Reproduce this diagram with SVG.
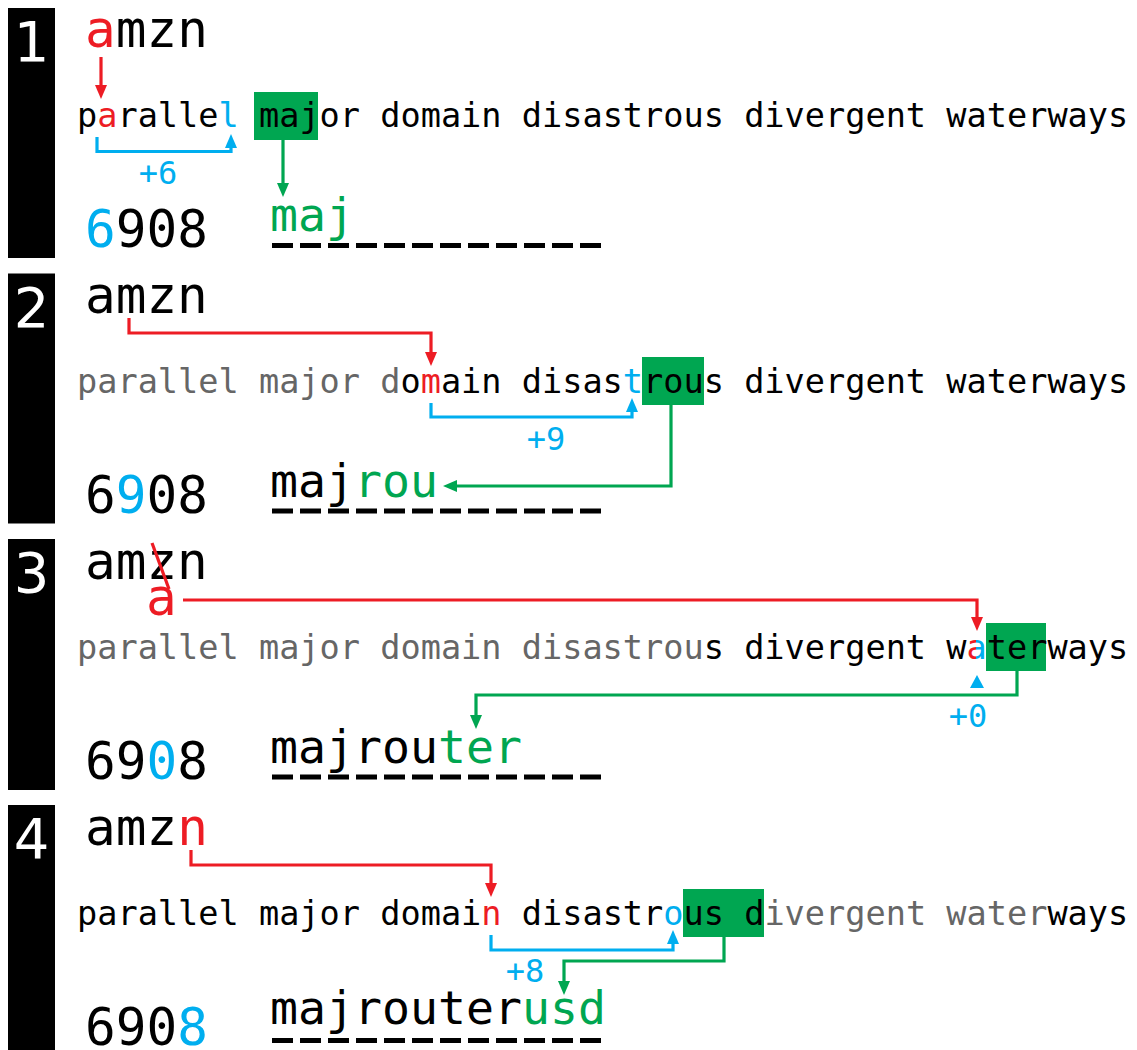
<svg xmlns="http://www.w3.org/2000/svg" width="1137" height="1050" viewBox="0 0 1137 1050">
<style>
.bar{fill:#000}
.num{font-family:"DejaVu Sans",sans-serif;font-size:56px;fill:#fff;text-anchor:middle}
.big{font-family:"DejaVu Sans Mono",monospace;font-size:51px;fill:#000}
.res{font-family:"DejaVu Sans Mono",monospace;font-size:46.5px;fill:#000}
.sen{font-family:"DejaVu Sans Mono",monospace;font-size:33.6px;fill:#000}
.lab{font-family:"DejaVu Sans Mono",monospace;font-size:32px;fill:#00aeef;text-anchor:middle}
.r{fill:#ed1c24}.b{fill:#00aeef}.g{fill:#00a651}.k{fill:#000}.gr{fill:#666}
.box{fill:#00a651}
.dash{stroke:#000;stroke-width:5;stroke-dasharray:21 7;fill:none}
.lr{stroke:#ed1c24;stroke-width:3.2;fill:none}
.lb{stroke:#00aeef;stroke-width:3.2;fill:none}
.lg{stroke:#00a651;stroke-width:3.2;fill:none}
</style>
<defs>
<marker id="mr" markerUnits="userSpaceOnUse" viewBox="0 0 14 12" refX="3" refY="6" markerWidth="14" markerHeight="13" orient="auto"><path d="M0,0L14,6L0,12z" fill="#ed1c24"/></marker>
<marker id="mb" markerUnits="userSpaceOnUse" viewBox="0 0 14 12" refX="3" refY="6" markerWidth="14" markerHeight="13" orient="auto"><path d="M0,0L14,6L0,12z" fill="#00aeef"/></marker>
<marker id="mg" markerUnits="userSpaceOnUse" viewBox="0 0 14 12" refX="3" refY="6" markerWidth="14" markerHeight="13" orient="auto"><path d="M0,0L14,6L0,12z" fill="#00a651"/></marker>
<linearGradient id="rb" gradientUnits="userSpaceOnUse" x1="964" y1="0" x2="985" y2="0"><stop offset="0.55" stop-color="#ed1c24"/><stop offset="0.55" stop-color="#00aeef"/></linearGradient>
</defs>

<g id="panel1">
<rect class="bar" x="8" y="8" width="47" height="250"/>
<text class="num" x="31.5" y="61">1</text>
<text class="big" x="85" y="47"><tspan class="r">a</tspan>mzn</text>
<rect class="box" x="254" y="92" width="64" height="48"/>
<text class="sen" x="77" y="127">p<tspan class="r">a</tspan>ralle<tspan class="b">l</tspan> major domain disastrous divergent waterways</text>
<text class="lab" x="158" y="184">+6</text>
<text class="big" x="85" y="247"><tspan class="b">6</tspan>908</text>
<text class="res" x="270" y="231"><tspan class="g">maj</tspan></text>
<line class="dash" x1="272" y1="245.5" x2="602" y2="245.5"/>
</g>

<g id="panel2">
<rect class="bar" x="8" y="273.5" width="47" height="250"/>
<text class="num" x="31.5" y="326.5">2</text>
<text class="big" x="85" y="313">amzn</text>
<rect class="box" x="642" y="357" width="62" height="48"/>
<text class="sen" x="77" y="393"><tspan class="gr">parallel major d</tspan>o<tspan class="r">m</tspan>ain disas<tspan class="b">t</tspan>rous divergent waterways</text>
<text class="lab" x="546" y="450">+9</text>
<text class="big" x="85" y="513">6<tspan class="b">9</tspan>08</text>
<text class="res" x="270" y="497">maj<tspan class="g">rou</tspan></text>
<line class="dash" x1="272" y1="511" x2="602" y2="511"/>
</g>

<g id="panel3">
<rect class="bar" x="8" y="539" width="47" height="251"/>
<text class="num" x="31.5" y="592">3</text>
<text class="big" x="85" y="579">amzn</text>
<line class="lr" x1="152" y1="543" x2="169" y2="589"/>
<text class="big r" x="146" y="615">a</text>
<rect class="box" x="986" y="623" width="60" height="48"/>
<text class="sen" x="77" y="659"><tspan class="gr">parallel major domain disastrou</tspan>s divergent w<tspan fill="url(#rb)">a</tspan>terways</text>
<polygon points="977,675 984,688 970,688" fill="#00aeef"/>
<text class="lab" x="968" y="727">+0</text>
<text class="big" x="85" y="779">69<tspan class="b">0</tspan>8</text>
<text class="res" x="270" y="763">majrou<tspan class="g">ter</tspan></text>
<line class="dash" x1="272" y1="777" x2="602" y2="777"/>
</g>

<g id="panel4">
<rect class="bar" x="8" y="805" width="47" height="250"/>
<text class="num" x="31.5" y="858">4</text>
<text class="big" x="85" y="845">amz<tspan class="r">n</tspan></text>
<rect class="box" x="683" y="889" width="81" height="48"/>
<text class="sen" x="77" y="925">parallel major domai<tspan class="r">n</tspan> disastr<tspan class="b">o</tspan>us d<tspan class="gr">ivergent water</tspan>ways</text>
<text class="lab" x="525" y="982">+8</text>
<text class="big" x="85" y="1045">690<tspan class="b">8</tspan></text>
<text class="res" x="270" y="1024">majrouter<tspan class="g">usd</tspan></text>
<line class="dash" x1="272" y1="1040.5" x2="602" y2="1040.5"/>
</g>

<g id="connectors">
<path class="lr" d="M101,57V88" marker-end="url(#mr)"/>
<path class="lb" d="M97,137V151.5H231V145" marker-end="url(#mb)"/>
<path class="lg" d="M283,140V186" marker-end="url(#mg)"/>

<path class="lr" d="M129,318V333H431V355" marker-end="url(#mr)"/>
<path class="lb" d="M431,403V417H632V409" marker-end="url(#mb)"/>
<path class="lg" d="M671,405V486H454" marker-end="url(#mg)"/>

<path class="lr" d="M183,600H977V620" marker-end="url(#mr)"/>
<path class="lg" d="M1017,671V695H476V718" marker-end="url(#mg)"/>

<path class="lr" d="M191,850V865H491V886" marker-end="url(#mr)"/>
<path class="lb" d="M491,935V950H673V941" marker-end="url(#mb)"/>
<path class="lg" d="M724,937V961H564V984" marker-end="url(#mg)"/>
</g>
</svg>
